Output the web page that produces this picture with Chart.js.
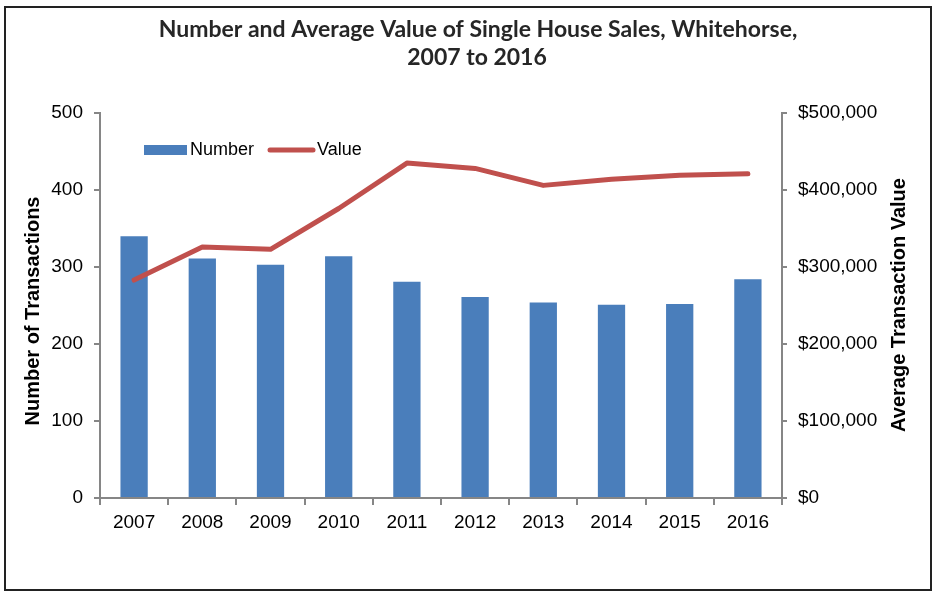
<!DOCTYPE html>
<html>
<head>
<meta charset="utf-8">
<script src="https://cdn.jsdelivr.net/npm/chart.js@4"></script>
<style>
  html, body { margin: 0; padding: 0; background: #fff; }
  #wrap { width: 936px; height: 594px; }
</style>
</head>
<body>
<div id="wrap"><canvas id="chart" width="936" height="594"></canvas></div>
<script>
const years = ['2007', '2008', '2009', '2010', '2011', '2012', '2013', '2014', '2015', '2016'];
const salesCount = [340, 311, 303, 314, 281, 261, 254, 251, 252, 284];
const avgValue = [283000, 326000, 323000, 376000, 435000, 428000, 406000, 414000, 419000, 421000];
const titleLines = ['Number and Average Value of Single House Sales, Whitehorse,', '2007 to 2016'];

const AXIS = '#868686';
const BAR = '#4a7ebb';
const LINE = '#c0504d';
const tickFont = { family: '"Liberation Sans", Arial, sans-serif', size: 19 };

// title, frame, axis titles and the in-plot legend
const decor = {
  id: 'decor',
  afterDraw(chart) {
    const ctx = chart.ctx;
    ctx.save();
    ctx.strokeStyle = '#222';
    ctx.lineWidth = 2;
    ctx.strokeRect(5, 7, 926, 583);

    ctx.fillStyle = '#262626';
    ctx.textAlign = 'center';
    ctx.textBaseline = 'middle';
    ctx.font = 'bold 23px Lato';
    ctx.fillText(titleLines[0], 478, 30);
    ctx.fillText(titleLines[1], 477, 58);

    ctx.fillStyle = '#000';
    ctx.font = 'bold 20px "Liberation Sans"';
    ctx.save();
    ctx.translate(33, 311);
    ctx.rotate(-Math.PI / 2);
    ctx.fillText('Number of Transactions', 0, 0);
    ctx.restore();
    ctx.save();
    ctx.translate(899, 305);
    ctx.rotate(-Math.PI / 2);
    ctx.fillText('Average Transaction Value', 0, 0);
    ctx.restore();

    // legend
    const bars = chart.data.datasets.find((d) => d.label === 'Number');
    const line = chart.data.datasets.find((d) => d.label === 'Value');
    ctx.textAlign = 'left';
    ctx.font = '18px "Liberation Sans"';
    ctx.fillStyle = bars.backgroundColor;
    ctx.fillRect(144, 145, 43, 10);
    ctx.fillStyle = '#000';
    ctx.fillText(bars.label, 190, 150);
    ctx.strokeStyle = line.borderColor;
    ctx.lineWidth = 5;
    ctx.lineCap = 'round';
    ctx.beginPath();
    ctx.moveTo(270, 150);
    ctx.lineTo(313, 150);
    ctx.stroke();
    ctx.fillText(line.label, 317, 150);
    ctx.restore();
  }
};

new Chart(document.getElementById('chart'), {
  type: 'bar',
  data: {
    labels: years,
    datasets: [
      {
        type: 'line', label: 'Value', data: avgValue, yAxisID: 'y1', order: 0,
        borderColor: LINE, backgroundColor: LINE, borderWidth: 5,
        borderCapStyle: 'round', borderJoinStyle: 'round', pointRadius: 0, tension: 0
      },
      {
        label: 'Number', data: salesCount, yAxisID: 'y', order: 1,
        backgroundColor: BAR, borderWidth: 0,
        categoryPercentage: 1, barPercentage: 0.4
      }
    ]
  },
  options: {
    responsive: false,
    animation: false,
    layout: { padding: { top: 113, left: 0, right: 0, bottom: 0 } },
    plugins: { legend: { display: false }, title: { display: false }, tooltip: { enabled: false } },
    scales: {
      x: {
        grid: { drawOnChartArea: false, drawTicks: true, tickLength: 7, color: AXIS, lineWidth: 2, offset: true },
        border: { color: AXIS, width: 2 },
        ticks: { font: tickFont, color: '#000', padding: 6, maxRotation: 0 },
        afterFit(s) { s.height = 96; }
      },
      y: {
        position: 'left', min: 0, max: 500,
        grid: { drawOnChartArea: false, drawTicks: true, tickLength: 6, color: AXIS, lineWidth: 2 },
        border: { color: AXIS, width: 2 },
        ticks: { stepSize: 100, font: tickFont, color: '#000', padding: 11 },
        afterFit(s) { s.width = 100; }
      },
      y1: {
        position: 'right', min: 0, max: 500000,
        grid: { drawOnChartArea: false, drawTicks: true, tickLength: 5, color: AXIS, lineWidth: 2 },
        border: { color: AXIS, width: 2 },
        ticks: {
          stepSize: 100000, font: tickFont, color: '#000', padding: 11,
          callback: (v) => '$' + v.toLocaleString('en-US')
        },
        afterFit(s) { s.width = 154; }
      }
    }
  },
  plugins: [decor]
});
</script>
</body>
</html>
